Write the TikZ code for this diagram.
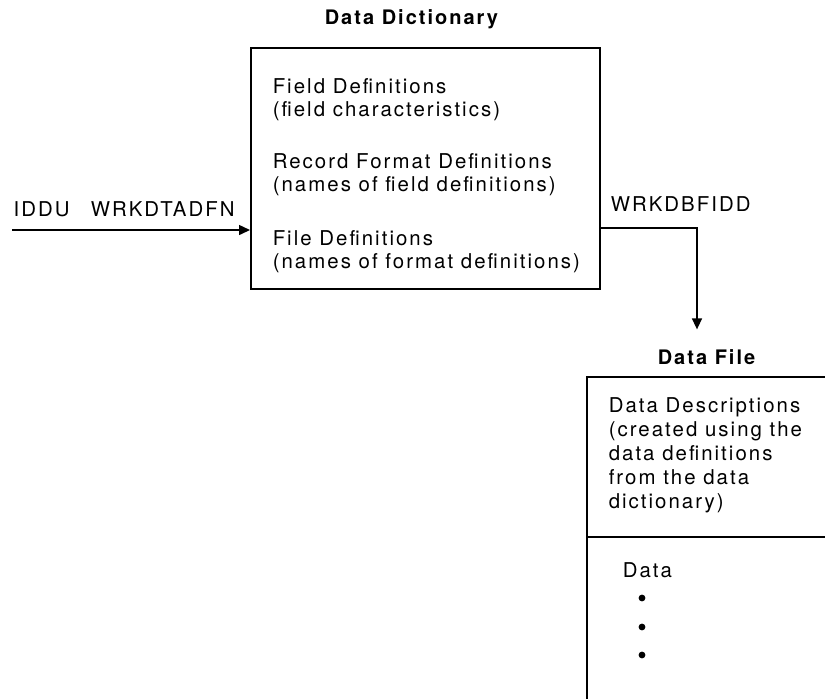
\documentclass[tikz,border=0pt]{standalone}
\usepackage{fontspec}
\setmainfont[LetterSpace=10]{TeX Gyre Heros}
\usetikzlibrary{arrows.meta}
\usetikzlibrary{calc}

\begin{document}
\begin{tikzpicture}[x=0.5pt, y=-0.5pt, line width=0.75pt,
        >={Triangle[length=5.5pt,width=5pt]},
        txt/.style={inner sep=0, font=\fontsize{10.2}{11.5}\selectfont},
        ttl/.style={inner sep=0, font=\fontsize{10}{11.5}\selectfont\bfseries}]
    \useasboundingbox (0,0) rectangle (825,698);
    % data dictionary
    \node[ttl, anchor=base west] (dtitle) at (324,24) {Data Dictionary};
    \node[draw, rectangle, inner sep=0, anchor=north west,
        minimum width=174.5pt, minimum height=120.5pt] (dict) at (250,47) {};
    \node[txt, align=left, anchor=north west] (dtext) at (272,78)
        {Field Definitions\\(field characteristics)\\[14.5pt]
         Record Format Definitions\\(names of field definitions)\\[15.5pt]
         File Definitions\\(names of format definitions)};
    % input side
    \coordinate (in) at (12,230);
    \node[txt, anchor=base west] (iddu) at (13,216) {IDDU};
    \node[txt, anchor=base west] (wrkin) at (90,216) {WRKDTADFN};
    \draw[->] (in) -- (in -| dict.west);
    % output side
    \coordinate (bend) at (697,228);
    \node[txt, anchor=base west] (wrkout) at (610,211) {WRKDBFIDD};
    \node[ttl, anchor=base west] (ftitle) at (657,364) {Data File};
    \draw[->, shorten >=9.5pt] (bend -| dict.east) -- (bend) -- (bend |- ftitle.north);
    % data file
    \node[draw, rectangle, inner sep=0, anchor=north west,
        minimum width=150pt, minimum height=200pt] (file) at (586,376) {};
    \draw (file.west |- 0,537) -- (file.east |- 0,537);
    \node[txt, align=left, anchor=north west, font=\fontsize{10.2}{12}\selectfont] (desc) at (608,397)
        {Data Descriptions\\(created using the\\data definitions\\from the data\\dictionary)};
    \node[txt, anchor=base west] (data) at (622,577) {Data};
    \foreach \y in {598,627,655}
        \fill (642,\y) circle[radius=1.7pt];
\end{tikzpicture}
\end{document}
